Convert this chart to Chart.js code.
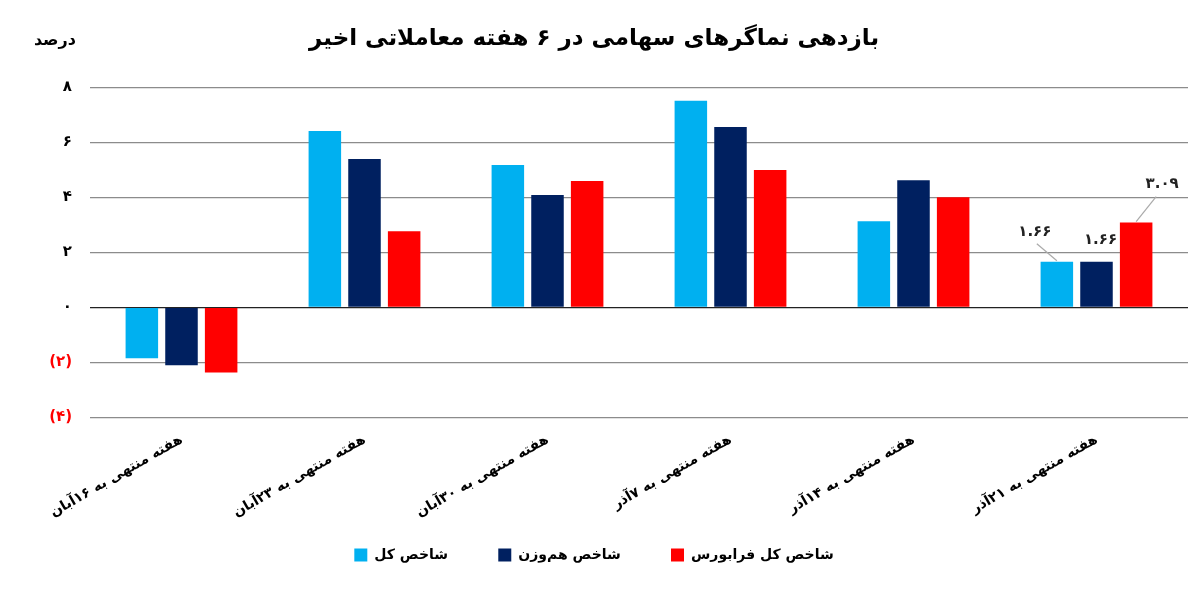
<!DOCTYPE html>
<html>
<head>
<meta charset="utf-8">
<script src="https://cdn.jsdelivr.net/npm/chart.js@4/dist/chart.umd.min.js"></script>
<style>
  body { margin: 0; background: #fff; }
  #wrap { width: 1200px; height: 592px; }
</style>
</head>
<body>
<div id="wrap"><canvas id="returnsChart"></canvas></div>
<script>
// categories (weeks)
const weeks = [
    'هفته منتهی به ۱۶آبان',
    'هفته منتهی به ۲۳آبان',
    'هفته منتهی به ۳۰آبان',
    'هفته منتهی به ۷آذر',
    'هفته منتهی به ۱۴آذر',
    'هفته منتهی به ۲۱آذر'
];
const seriesNames = ['شاخص کل', 'شاخص هم‌وزن', 'شاخص کل فرابورس'];
// weekly return, percent
const totalIndex = [-1.85, 6.42, 5.18, 7.52, 3.14, 1.66];
const equalWeight = [-2.1, 5.4, 4.09, 6.57, 4.63, 1.66];
const farabourse = [-2.37, 2.77, 4.6, 5.0, 4.01, 3.09];
const lastWeekLabels = ['۱.۶۶', '۱.۶۶', '۳.۰۹'];
const yTicks = [-4, -2, 0, 2, 4, 6, 8];

const FA = '۰۱۲۳۴۵۶۷۸۹';
const toFa = (s) => String(s).replace(/\d/g, d => FA[d]);

Chart.defaults.font.family = "'DejaVu Sans', 'Noto Sans', sans-serif";
Chart.defaults.font.weight = 'bold';
Chart.defaults.color = '#000';

// callout labels for the last week + the "درصد" unit label
const extrasPlugin = {
    id: 'extras',
    afterDatasetsDraw(chart) {
        const ctx = chart.ctx;
        const offsets = [[-22, -30, true], [4, -22, false], [26, -38, true]];
        ctx.save();
        ctx.font = "bold 15px 'DejaVu Sans'";
        ctx.fillStyle = '#222';
        ctx.textAlign = 'center';
        ctx.textBaseline = 'middle';
        chart.data.datasets.forEach((ds, i) => {
            const bar = chart.getDatasetMeta(i).data[ds.data.length - 1];
            const [dx, dy, line] = offsets[i];
            const lx = bar.x + dx, ly = bar.y + dy;
            if (line) {
                ctx.strokeStyle = '#aaa';
                ctx.lineWidth = 1.2;
                ctx.beginPath();
                const sy = dy < 0 ? ly + 12 : ly - 12;
                ctx.moveTo(lx + (dx < 0 ? 2 : -6), sy);
                ctx.lineTo(bar.x, bar.y - 1);
                ctx.stroke();
            }
            ctx.fillText(lastWeekLabels[i], lx, ly);
        });
        const y = chart.scales.y;
        ctx.textAlign = 'right';
        ctx.font = "bold 16px 'DejaVu Sans'";
        ctx.fillStyle = '#000';
        ctx.fillText('درصد', y.right - 14, chart.chartArea.top - 47);
        ctx.restore();
    }
};

new Chart(document.getElementById('returnsChart'), {
    type: 'bar',
    data: {
        labels: weeks,
        datasets: [
            { label: seriesNames[0], data: totalIndex, backgroundColor: '#00B0F0' },
            { label: seriesNames[1], data: equalWeight, backgroundColor: '#002060' },
            { label: seriesNames[2], data: farabourse, backgroundColor: '#FF0000' }
        ]
    },
    options: {
        responsive: true,
        maintainAspectRatio: false,
        animation: false,
        layout: { padding: { left: 0, right: 12, top: 16, bottom: 20 } },
        datasets: { bar: { categoryPercentage: 0.65, barPercentage: 0.82 } },
        plugins: {
            title: {
                display: true,
                text: 'بازدهی نماگرهای سهامی در ۶ هفته معاملاتی اخیر',
                font: { size: 23, weight: 'bold' },
                color: '#000',
                padding: { top: 9, bottom: 35 }
            },
            legend: {
                position: 'bottom',
                labels: {
                    boxWidth: 13,
                    boxHeight: 13,
                    padding: 21,
                    font: { size: 14, weight: 'bold' },
                    // extra gap after each item except the last
                    generateLabels: (chart) => Chart.defaults.plugins.legend.labels.generateLabels(chart)
                        .map((l, i, all) => Object.assign(l, { text: i < all.length - 1 ? l.text + '      ' : l.text }))
                }
            },
            tooltip: { enabled: false }
        },
        scales: {
            x: {
                grid: { display: false },
                border: { display: false },
                ticks: {
                    minRotation: 30,
                    maxRotation: 30,
                    padding: 6,
                    font: { size: 14, weight: 'bold' }
                }
            },
            y: {
                min: -4,
                max: 8,
                afterFit: (scale) => { scale.width = 90; },
                afterBuildTicks: (scale) => { scale.ticks = yTicks.map(v => ({ value: v })); },
                border: { display: false },
                grid: {
                    drawTicks: false,
                    color: (c) => c.tick && c.tick.value === 0 ? '#222' : '#8c8c8c',
                    lineWidth: 1.2
                },
                ticks: {
                    padding: 18,
                    font: { size: 15, weight: 'bold' },
                    color: (c) => c.tick && c.tick.value < 0 ? '#FF0000' : '#000',
                    callback: (v) => v < 0 ? '(' + toFa(-v) + ')' : toFa(v)
                }
            }
        }
    },
    plugins: [extrasPlugin]
});
</script>
</body>
</html>
